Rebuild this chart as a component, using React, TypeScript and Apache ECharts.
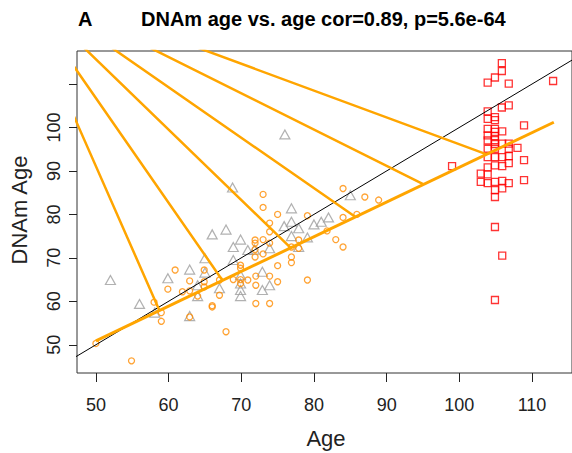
import React, { useEffect, useRef } from "react";
import * as echarts from "echarts";

const FONT = '"Liberation Sans Narrow", "Liberation Sans", Arial, sans-serif';

// Tick positions
const xTicks = [50, 60, 70, 80, 90, 100, 110];
const yTicks = [50, 60, 70, 80, 90, 100, 110];
const yLabelValues = [50, 60, 70, 80, 90, 100];

// Group 1 (grey triangles)
const grayAge = [52.0, 56.0, 58.1, 59.9, 62.9, 62.9, 64.0, 64.0, 65.0, 65.0, 66.0, 67.0, 67.9, 68.9, 68.9, 68.8, 69.9, 69.9, 69.9, 69.9, 69.9, 70.9, 71.8, 72.9, 72.9, 73.9, 73.9, 75.9, 76.0, 76.9, 76.9, 76.9, 77.9, 77.9, 79.1, 80.0, 81.0, 82.0, 85.0];
const grayDNAm = [64.9, 59.4, 57.4, 65.3, 67.3, 56.6, 63.7, 61.2, 69.9, 66.6, 75.4, 63.0, 76.5, 72.5, 69.5, 86.2, 74.2, 66.0, 64.1, 62.6, 61.2, 71.8, 71.9, 66.8, 62.6, 63.7, 72.2, 77.3, 98.4, 81.4, 78.3, 75.0, 76.8, 72.5, 74.7, 77.7, 78.3, 79.3, 84.4];

// Group 2 (orange circles)
const orangeAge = [50.0, 54.9, 58.0, 59.0, 59.0, 59.9, 60.9, 61.9, 62.9, 62.9, 62.9, 64.0, 64.9, 64.9, 64.9, 66.0, 66.0, 67.0, 67.0, 67.9, 68.9, 69.9, 69.9, 69.9, 69.9, 70.9, 71.9, 71.9, 71.9, 71.9, 72.0, 72.0, 72.0, 73.0, 73.0, 73.0, 73.0, 73.9, 73.9, 73.9, 73.9, 73.9, 75.0, 75.0, 75.0, 76.9, 76.9, 76.9, 77.9, 77.9, 79.1, 79.1, 81.8, 83.0, 84.0, 84.0, 84.0, 85.9, 87.0, 88.9];
const orangeDNAm = [50.3, 46.3, 59.8, 57.4, 55.4, 62.8, 67.2, 62.2, 64.7, 62.4, 56.4, 61.2, 67.2, 64.5, 63.3, 58.7, 59.0, 61.4, 64.9, 53.0, 65.0, 68.3, 67.6, 65.0, 64.1, 64.9, 74.1, 73.4, 71.9, 70.2, 65.8, 63.7, 59.5, 84.6, 81.6, 74.2, 70.9, 78.0, 76.0, 73.4, 65.8, 59.5, 80.0, 68.2, 64.5, 72.5, 70.2, 68.9, 74.1, 72.2, 79.7, 64.9, 76.2, 74.2, 72.5, 79.3, 85.95, 80.0, 84.0, 83.3];

// Group 3 (red squares)
const redAge = [105.85, 105.85, 104.9, 103.9, 106.8, 112.9, 105.85, 106.8, 103.9, 103.9, 104.9, 104.9, 108.9, 103.9, 104.9, 105.9, 103.9, 103.9, 103.9, 104.9, 104.9, 104.9, 104.9, 104.9, 105.9, 106.8, 106.8, 108.0, 108.9, 103.9, 104.9, 105.9, 106.8, 103.9, 104.9, 105.9, 106.8, 99.0, 102.95, 103.9, 102.95, 103.9, 104.9, 105.9, 106.8, 108.9, 104.9, 105.9, 104.9, 104.9, 105.9, 104.9];
const redDNAm = [114.8, 113.0, 111.5, 110.3, 110.1, 110.7, 104.6, 105.1, 103.7, 102.0, 102.4, 101.7, 100.5, 99.7, 99.7, 99.1, 98.2, 97.0, 95.1, 99.0, 98.0, 97.1, 96.2, 95.1, 96.3, 96.3, 95.1, 95.3, 92.5, 93.2, 93.2, 93.2, 93.4, 90.8, 91.3, 91.1, 91.8, 91.1, 89.4, 89.2, 87.5, 87.2, 87.5, 87.7, 87.2, 87.9, 85.6, 86.0, 84.0, 77.1, 70.5, 60.3];

// Fitted line and the identity line
const fitAge = [50, 113];
const fitDNAm = [50.9, 101.2];
const identityAge = [40, 120];
const identityDNAm = [40, 120];

// Connector segments joining the far point to points on the fitted line
const hubPoint = [38.7, 134];
const spokeAge = [58.74, 67.42, 76.8, 85.72, 95.09, 103.77];
const spokeDNAm = [57.9, 64.8, 72.3, 79.4, 86.9, 93.8];

const zip = (a: number[], b: number[]) => a.map((v, i) => [v, b[i]]);

export default function App() {
  const ref = useRef<HTMLDivElement>(null);

  useEffect(() => {
    if (!ref.current) return;
    const chart = echarts.init(ref.current, null, { renderer: "svg" });

    const spokeData: number[][] = [];
    spokeAge.forEach((a, i) => {
      spokeData.push(hubPoint);
      spokeData.push([a, spokeDNAm[i]]);
    });

    const axisCommon = {
      type: "value" as const,
      axisLine: { show: false },
      splitLine: { show: false },
    };

    chart.setOption({
      animation: false,
      textStyle: { fontFamily: FONT },
      grid: {
        left: 77,
        top: 51,
        right: -2,
        bottom: 80,
        show: true,
        borderColor: "#333",
        borderWidth: 1,
      },
      xAxis: {
        ...axisCommon,
        min: 47.4,
        max: 115.5,
        axisTick: {
          show: true,
          inside: false,
          length: 9,
          customValues: xTicks,
          lineStyle: { color: "#222", width: 1 },
        },
        axisLabel: {
          customValues: xTicks,
          fontSize: 18,
          color: "#222",
          margin: 23,
          fontFamily: FONT,
        },
      },
      yAxis: {
        ...axisCommon,
        min: 43.5,
        max: 117.6,
        axisTick: {
          show: true,
          inside: false,
          length: 8,
          customValues: yTicks,
          lineStyle: { color: "#222", width: 1 },
        },
        axisLabel: {
          customValues: yLabelValues,
          rotate: 90,
          fontSize: 18,
          color: "#222",
          margin: 14,
          fontFamily: FONT,
        },
      },
      series: [
        {
          type: "scatter",
          data: zip(grayAge, grayDNAm),
          symbol: "triangle",
          symbolSize: [10, 9],
          itemStyle: {
            color: "rgba(0,0,0,0)",
            borderColor: "#9e9e9e",
            borderWidth: 1.2,
          },
          z: 2,
        },
        {
          type: "scatter",
          data: zip(orangeAge, orangeDNAm),
          symbol: "circle",
          symbolSize: 6,
          itemStyle: {
            color: "rgba(0,0,0,0)",
            borderColor: "#ff8c00",
            borderWidth: 1.3,
          },
          z: 2,
        },
        {
          type: "scatter",
          data: zip(redAge, redDNAm),
          symbol: "rect",
          symbolSize: 7,
          itemStyle: {
            color: "rgba(0,0,0,0)",
            borderColor: "#ff0000",
            borderWidth: 1.3,
          },
          z: 2,
        },
        {
          type: "line",
          data: zip(identityAge, identityDNAm),
          showSymbol: false,
          lineStyle: { color: "#000", width: 1 },
          clip: true,
          z: 3,
        },
        {
          type: "line",
          data: spokeData,
          showSymbol: false,
          lineStyle: { color: "#ffa500", width: 2.5 },
          clip: true,
          z: 4,
        },
        {
          type: "line",
          data: zip(fitAge, fitDNAm),
          showSymbol: false,
          lineStyle: { color: "#ffa500", width: 3 },
          clip: true,
          z: 4,
        },
      ],
      graphic: [
        {
          type: "text",
          left: 78,
          top: 9,
          style: {
            text: "A",
            font: `bold 20px ${FONT}`,
            fill: "#000",
          },
        },
        {
          type: "text",
          left: 141,
          top: 9,
          style: {
            text: "DNAm age vs. age cor=0.89, p=5.6e-64",
            font: `bold 20px ${FONT}`,
            fill: "#000",
          },
        },
        {
          type: "text",
          x: 326,
          y: 438,
          style: {
            text: "Age",
            font: `22px ${FONT}`,
            fill: "#222",
            align: "center",
            verticalAlign: "middle",
          },
        },
        {
          type: "text",
          x: 19,
          y: 210,
          rotation: Math.PI / 2,
          style: {
            text: "DNAm Age",
            font: `22px ${FONT}`,
            fill: "#222",
            align: "center",
            verticalAlign: "middle",
          },
        },
      ],
    });

    return () => chart.dispose();
  }, []);

  return (
    <div
      ref={ref}
      style={{ position: "absolute", left: 0, top: 0, width: 572, height: 453 }}
    />
  );
}
